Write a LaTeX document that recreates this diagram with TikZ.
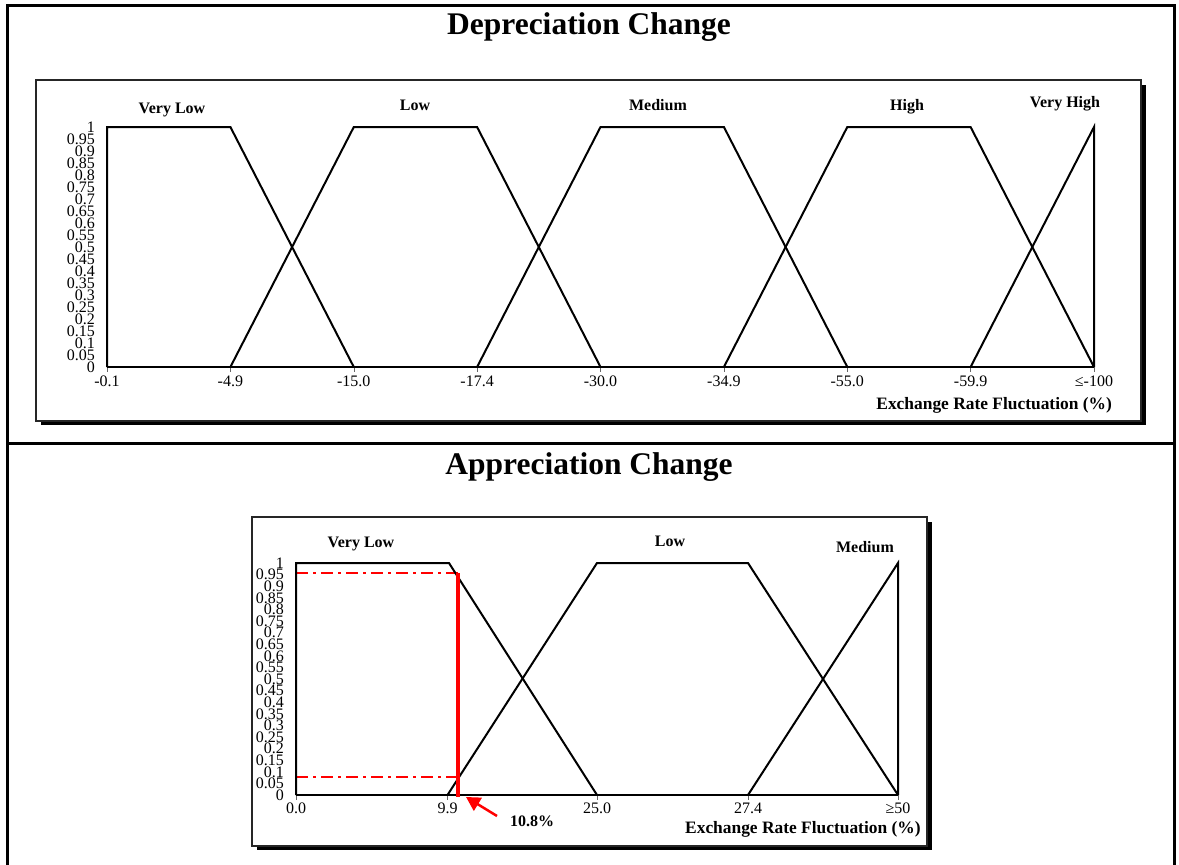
\documentclass[tikz,border=0pt]{standalone}
\usepackage{fontspec}
\setmainfont{Liberation Serif}
\usetikzlibrary{arrows.meta}
\begin{document}
\begin{tikzpicture}[x=1pt,y=-1pt,
  frameline/.style={line width=3pt},
  panel/.style={line width=1.6pt, draw=black!85, fill=white},
  mf/.style={line width=2pt, line join=miter},
  ylab/.style={anchor=east, inner sep=0pt, font=\fontsize{16}{16}\selectfont},
  xlab/.style={inner sep=0pt, font=\fontsize{16}{16}\selectfont},
  setlab/.style={inner sep=0pt, font=\fontsize{16}{16}\selectfont\bfseries},
  axlab/.style={inner sep=0pt, font=\fontsize{17.4}{18}\selectfont\bfseries},
  ttl/.style={inner sep=0pt, font=\fontsize{31.5}{32}\selectfont\bfseries},
  tick/.style={line width=0.6pt, draw=black!60},
  guide/.style={draw=red, line width=1.6pt, dash pattern=on 12pt off 5pt on 3pt off 5pt},
  cut/.style={draw=red, line width=4pt},
  pointer/.style={draw=red, line width=2.5pt, -{Triangle[length=14pt,width=15pt]}}]
\useasboundingbox (0,0) rectangle (1179,865);

% table frame
\draw[frameline] (7,866) -- (7,5) -- (1174,5) -- (1174,866);
\draw[frameline] (7,443) -- (1174,443);

% ---------------- depreciation panel ----------------
\node[ttl] (t1) at (589,27) {Depreciation Change};
\fill[black] (41,85) rectangle (1146,425);
\draw[panel] (36,80) rectangle (1141,421);

\foreach \v [count=\i from 0] in {0,0.05,0.1,0.15,0.2,0.25,0.3,0.35,0.4,0.45,0.5,0.55,0.6,0.65,0.7,0.75,0.8,0.85,0.9,0.95,1}
  \node[ylab] (ty\i) at (95,367-12*\i) {\v};

\foreach \x/\t [count=\i] in {107/-0.1, 230.4/-4.9, 353.8/-15.0, 477.1/-17.4, 600.5/-30.0, 723.9/-34.9, 847.3/-55.0, 970.6/-59.9, 1094/≤-100}{
  \draw[tick] (\x,367) -- (\x,372);
  \node[xlab] (tx\i) at (\x,381) {\t};
}

\draw[mf] (107,367) -- (1094,367);
\draw[mf] (107,367) -- (107,127) -- (230.4,127) -- (353.8,367);
\draw[mf] (230.4,367) -- (353.8,127) -- (477.1,127) -- (600.5,367);
\draw[mf] (477.1,367) -- (600.5,127) -- (723.9,127) -- (847.3,367);
\draw[mf] (723.9,367) -- (847.3,127) -- (970.6,127) -- (1094,367);
\draw[mf] (970.6,367) -- (1094,127) -- (1094,367);

\node[setlab] (tvl) at (172,110) {Very Low};
\node[setlab] (tl)  at (415,105) {Low};
\node[setlab] (tm)  at (658,105) {Medium};
\node[setlab] (th)  at (907,107) {High};
\node[setlab] (tvh) at (1065,104) {Very High};
\node[axlab, anchor=east] (tax) at (1112,405) {Exchange Rate Fluctuation (\%)};

% ---------------- appreciation panel ----------------
\node[ttl] (t2) at (589,467) {Appreciation Change};
\fill[black] (257,522) rectangle (932,850);
\draw[panel] (252,517) rectangle (927,846);

\foreach \v [count=\i from 0] in {0,0.05,0.1,0.15,0.2,0.25,0.3,0.35,0.4,0.45,0.5,0.55,0.6,0.65,0.7,0.75,0.8,0.85,0.9,0.95,1}
  \node[ylab] (by\i) at (284,795-11.6*\i) {\v};

\foreach \x/\t [count=\i] in {296/0.0, 447.5/9.9, 597/25.0, 748/27.4, 898/≥50}{
  \draw[tick] (\x,795) -- (\x,800);
  \node[xlab] (bx\i) at (\x,808) {\t};
}

% red cut at 10.8 %
\draw[guide] (296,573) -- (458,573);
\draw[guide] (296,777) -- (458,777);

\draw[mf] (296,795) -- (898,795);
\draw[mf] (296,795) -- (296,563) -- (449,563) -- (597,795);
\draw[mf] (447.5,795) -- (597,563) -- (748,563) -- (898,795);
\draw[mf] (748,795) -- (898,563) -- (898,795);

\coordinate (cuttop) at (458,573);
\coordinate (cutbot) at (458,797);
\draw[cut] (cuttop) -- (cutbot);

\coordinate (arrtail) at (497,816);
\coordinate (arrtip) at (466,797);
\draw[pointer] (arrtail) -- (arrtip);
\node[setlab, anchor=west] (val) at (510,821) {10.8\%};

\node[setlab] (bvl) at (361,544) {Very Low};
\node[setlab] (bl)  at (670,541) {Low};
\node[setlab] (bm)  at (865,547) {Medium};
\node[axlab, anchor=west] (bax) at (685,829) {Exchange Rate Fluctuation (\%)};
\end{tikzpicture}
\end{document}
